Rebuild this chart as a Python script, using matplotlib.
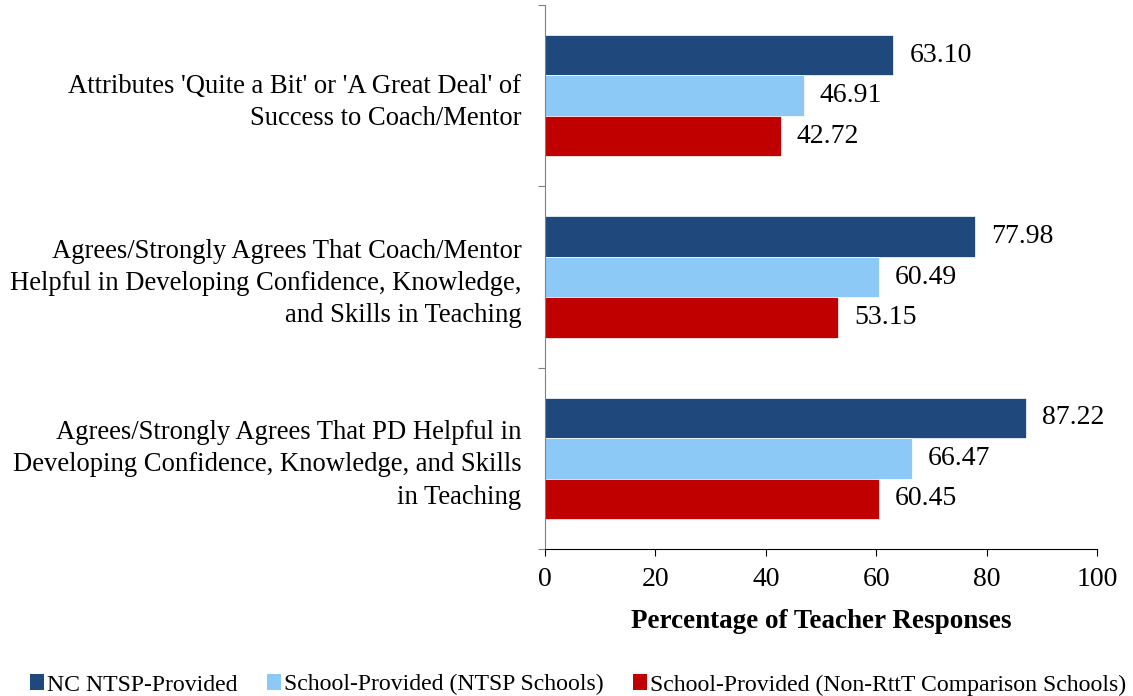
import matplotlib
matplotlib.use("Agg")
import matplotlib.pyplot as plt
import numpy as np
from matplotlib.patches import Patch

plt.rcParams['font.family'] = ['Liberation Serif', 'DejaVu Serif']

categories = [
    "Attributes 'Quite a Bit' or 'A Great Deal' of\nSuccess to Coach/Mentor",
    "Agrees/Strongly Agrees That Coach/Mentor\nHelpful in Developing Confidence, Knowledge,\nand Skills in Teaching",
    "Agrees/Strongly Agrees That PD Helpful in\nDeveloping Confidence, Knowledge, and Skills\nin Teaching",
]
series_names = ["NC NTSP-Provided", "School-Provided (NTSP Schools)",
                "School-Provided (Non-RttT Comparison Schools)"]
nc_ntsp = [63.10, 77.98, 87.22]
school_ntsp = [46.91, 60.49, 66.47]
school_nonrttt = [42.72, 53.15, 60.45]
series = [nc_ntsp, school_ntsp, school_nonrttt]
colors = ["#1F497D", "#8DC9F6", "#C00000"]
x_ticks = [0, 20, 40, 60, 80, 100]

fig = plt.figure(figsize=(11.33, 6.96), dpi=100)
ax = fig.add_axes([545/1133, 1-549/696, (1097-545)/1133, (549-5)/696])

h = 0.223
y = np.arange(len(categories))
for i, (vals, col) in enumerate(zip(series, colors)):
    pos = y + (i - 1) * h
    bars = ax.barh(pos, vals, height=h, color=col, edgecolor='white', linewidth=0.5)
    for b, v in zip(bars, vals):
        ax.annotate(f"{v:.2f}", (v, b.get_y() + b.get_height()/2),
                    xytext=(11.5, 0), textcoords='offset points',
                    va='center', ha='left', fontsize=20, color='black')

ax.set_ylim(2.5, -0.5)
ax.set_xlim(0, 100)
ax.set_xticks(x_ticks)
ax.set_xticklabels([str(t) for t in x_ticks], fontsize=20)
ax.set_yticks([-0.5, 0.5, 1.5, 2.5])
ax.set_yticklabels([])
ax.set_yticks(y, minor=True)
ax.set_yticklabels(categories, minor=True, fontsize=19.2, ha='right', linespacing=1.38)
ax.tick_params(axis='y', which='minor', length=0, pad=17)
ax.tick_params(axis='y', which='major', length=5, direction='out', color='#808080')
ax.tick_params(axis='x', which='major', length=5, direction='out', pad=8, color='black')

for s in ['top', 'right']:
    ax.spines[s].set_visible(False)
ax.spines['left'].set_color('#808080')
ax.spines['bottom'].set_color('black')

ax.set_xlabel("Percentage of Teacher Responses", fontsize=19.5, fontweight='bold', labelpad=12)

handles = [Patch(facecolor=c, edgecolor='none') for c in colors]
fig.legend(handles, series_names, loc='lower left', bbox_to_anchor=(0.008, -0.03), ncol=3,
           frameon=False, fontsize=17.1, handlelength=0.58, handleheight=0.67,
           handletextpad=0.12, columnspacing=1.25)

fig.savefig("out.png", dpi=100)
